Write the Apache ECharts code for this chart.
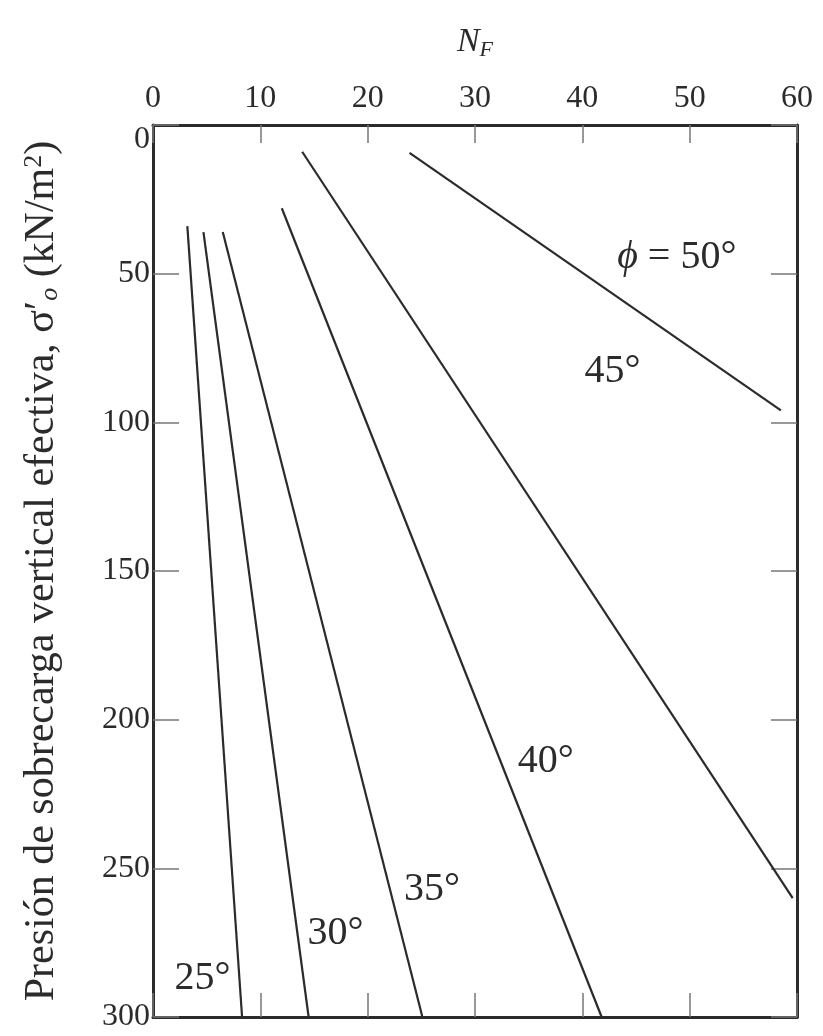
<!DOCTYPE html>
<html>
<head>
<meta charset="utf-8">
<script src="https://cdn.jsdelivr.net/npm/echarts@6/dist/echarts.min.js"></script>
<style>
  html, body { margin: 0; padding: 0; background: #fff; }
  #main { width: 823px; height: 1036px; }
</style>
</head>
<body>
<div id="main"></div>
<script>
  // curve end points: [N_F, sigma'_o]
  const phi25 = [[3.2, 34], [8.3, 300]];
  const phi30 = [[4.7, 36], [14.5, 300]];
  const phi35 = [[6.5, 36], [25.1, 300]];
  const phi40 = [[12.0, 28], [41.8, 300]];
  const phi45 = [[13.9, 9], [59.6, 260]];
  const phi50 = [[23.9, 9.4], [58.5, 96]];

  // curve labels and where they sit (data units)
  const labelText = ['{p|\u03d5} = 50\u00b0', '45\u00b0', '40\u00b0', '35\u00b0', '30\u00b0', '25\u00b0'];
  const labelPos = [[48.8, 44.5], [42.8, 83], [36.6, 214], [26.0, 257], [17.0, 272], [4.6, 287]];

  const xTicks = [0, 10, 20, 30, 40, 50, 60];
  const yTicks = [0, 50, 100, 150, 200, 250, 300];

  const chart = echarts.init(document.getElementById('main'));

  const font = 'Liberation Serif, DejaVu Serif, serif';
  const ink = '#2b2b2b';
  const tickInk = '#777';

  const curves = [phi25, phi30, phi35, phi40, phi45, phi50];
  let series = curves.map(function (d) {
    return {
      type: 'line',
      data: d,
      symbol: 'none',
      lineStyle: { color: ink, width: 2.2 },
      silent: true
    };
  });
  series.push({
    type: 'scatter',
    symbolSize: 1,
    itemStyle: { opacity: 1, color: 'transparent' },
    silent: true,
    data: labelPos.map(function (p, i) { return { value: p, name: labelText[i] }; }),
    label: {
      show: true,
      position: 'inside',
      formatter: function (p) { return p.name; },
      fontFamily: font,
      fontSize: 40,
      color: ink,
      rich: { p: { fontFamily: font, fontSize: 40, fontStyle: 'italic', color: ink } }
    }
  });

  const frame = { onZero: false, lineStyle: { color: ink, width: 3 } };

  const option = {
    animation: false,
    backgroundColor: '#fff',
    grid: { left: 153, right: 26, top: 125, bottom: 19 },
    xAxis: [
      {
        type: 'value', position: 'top', min: 0, max: 60, interval: 10,
        name: '{i|N}{s|F}', nameLocation: 'middle', nameGap: 64,
        nameTextStyle: {
          rich: {
            i: { fontFamily: font, fontSize: 34, fontStyle: 'italic', color: ink },
            s: { fontFamily: font, fontSize: 22, fontStyle: 'italic', color: ink, padding: [16, 0, 0, 0] }
          }
        },
        axisLine: frame,
        axisTick: { inside: true, length: 18, lineStyle: { color: tickInk, width: 1.5 } },
        axisLabel: { fontFamily: font, fontSize: 32, color: ink, margin: 10,
          formatter: function (v) { return xTicks.indexOf(v) >= 0 ? String(v) : ''; } },
        splitLine: { show: false }
      },
      {
        type: 'value', position: 'bottom', min: 0, max: 60, interval: 10,
        axisLine: frame,
        axisTick: { inside: true, length: 24, lineStyle: { color: tickInk, width: 1.5 } },
        axisLabel: { show: false },
        splitLine: { show: false }
      }
    ],
    yAxis: [
      {
        type: 'value', inverse: true, position: 'left', min: 0, max: 300, interval: 50,
        name: 'Presión de sobrecarga vertical efectiva, \u03c3{s|\u2032}{o|o} (kN/m{u|2})',
        nameLocation: 'middle', nameGap: 90, nameRotate: 90,
        nameTextStyle: {
          fontFamily: font, fontSize: 42, color: ink,
          rich: {
            s: { fontFamily: font, fontSize: 42, color: ink },
            o: { fontFamily: font, fontSize: 26, fontStyle: 'italic', color: ink, padding: [16, 0, 0, 0] },
            u: { fontFamily: font, fontSize: 26, color: ink, padding: [0, 0, 16, 0] }
          }
        },
        axisLine: frame,
        axisTick: { inside: true, length: 26, lineStyle: { color: tickInk, width: 1.5 } },
        axisLabel: { fontFamily: font, fontSize: 32, color: ink, margin: 3,
          formatter: function (v) {
            if (yTicks.indexOf(v) < 0) return '';
            return v === 0 ? '{z|0}' : String(v);
          },
          rich: { z: { fontFamily: font, fontSize: 32, color: ink, padding: [30, 0, 0, 0] } }
        },
        splitLine: { show: false }
      },
      {
        type: 'value', inverse: true, position: 'right', min: 0, max: 300, interval: 50,
        axisLine: frame,
        axisTick: { inside: true, length: 26, lineStyle: { color: tickInk, width: 1.5 } },
        axisLabel: { show: false },
        splitLine: { show: false }
      }
    ],
    series: series
  };

  chart.setOption(option);
</script>
</body>
</html>
